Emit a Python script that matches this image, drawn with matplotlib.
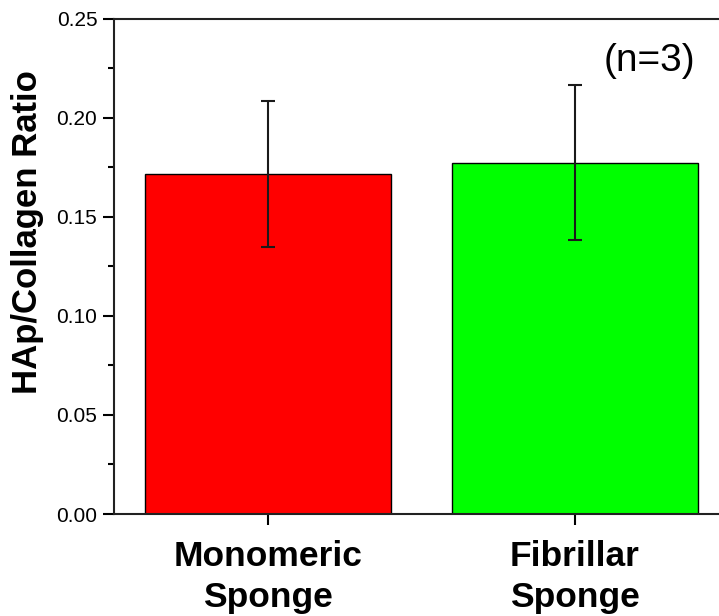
import matplotlib
matplotlib.use("Agg")
import matplotlib.pyplot as plt
from matplotlib.ticker import MultipleLocator

categories = ["Monomeric\nSponge", "Fibrillar\nSponge"]
ratio_mean = [0.1717, 0.1772]
ratio_err = [0.0368, 0.0390]
bar_colors = ["#ff0000", "#00ff00"]
y_ticks = [0.00, 0.05, 0.10, 0.15, 0.20, 0.25]

plt.rcParams["font.family"] = ["Liberation Sans", "DejaVu Sans"]

fig = plt.figure(figsize=(7.19, 6.16), dpi=100)
ax = fig.add_axes([114 / 719, 1 - 514 / 616, (728.5 - 114) / 719, (514 - 18.5) / 616])

x = [1, 2]
ax.bar(x, ratio_mean, width=0.8, color=bar_colors, edgecolor="black", linewidth=1.0,
       yerr=ratio_err, error_kw=dict(ecolor="#1a1a1a", elinewidth=1.5, capsize=5, capthick=1.5))

ax.set_xlim(0.5, 2.5)
ax.set_ylim(0, 0.25)
ax.set_yticks(y_ticks)
ax.set_yticklabels([f"{v:.2f}" for v in y_ticks])
ax.yaxis.set_minor_locator(MultipleLocator(0.025))
ax.set_xticks(x)
ax.set_xticklabels(categories, fontsize=25.5, fontweight="bold", linespacing=1.28)

ax.tick_params(axis="y", which="major", direction="out", length=8, width=1.5, labelsize=15, pad=4)
ax.tick_params(axis="y", which="minor", direction="out", length=4, width=1.5)
ax.tick_params(axis="x", which="major", direction="out", length=8, width=1.5, pad=11)

for side in ["left", "bottom", "top", "right"]:
    ax.spines[side].set_linewidth(1.5)
    ax.spines[side].set_color("#222222")

ax.set_ylabel("HAp/Collagen Ratio", fontsize=25, fontweight="bold", labelpad=9, y=0.569)
ax.text(0.797, 0.915, "(n=3)", transform=ax.transAxes, fontsize=28, ha="left", va="center")

fig.savefig("out.png", dpi=100)
